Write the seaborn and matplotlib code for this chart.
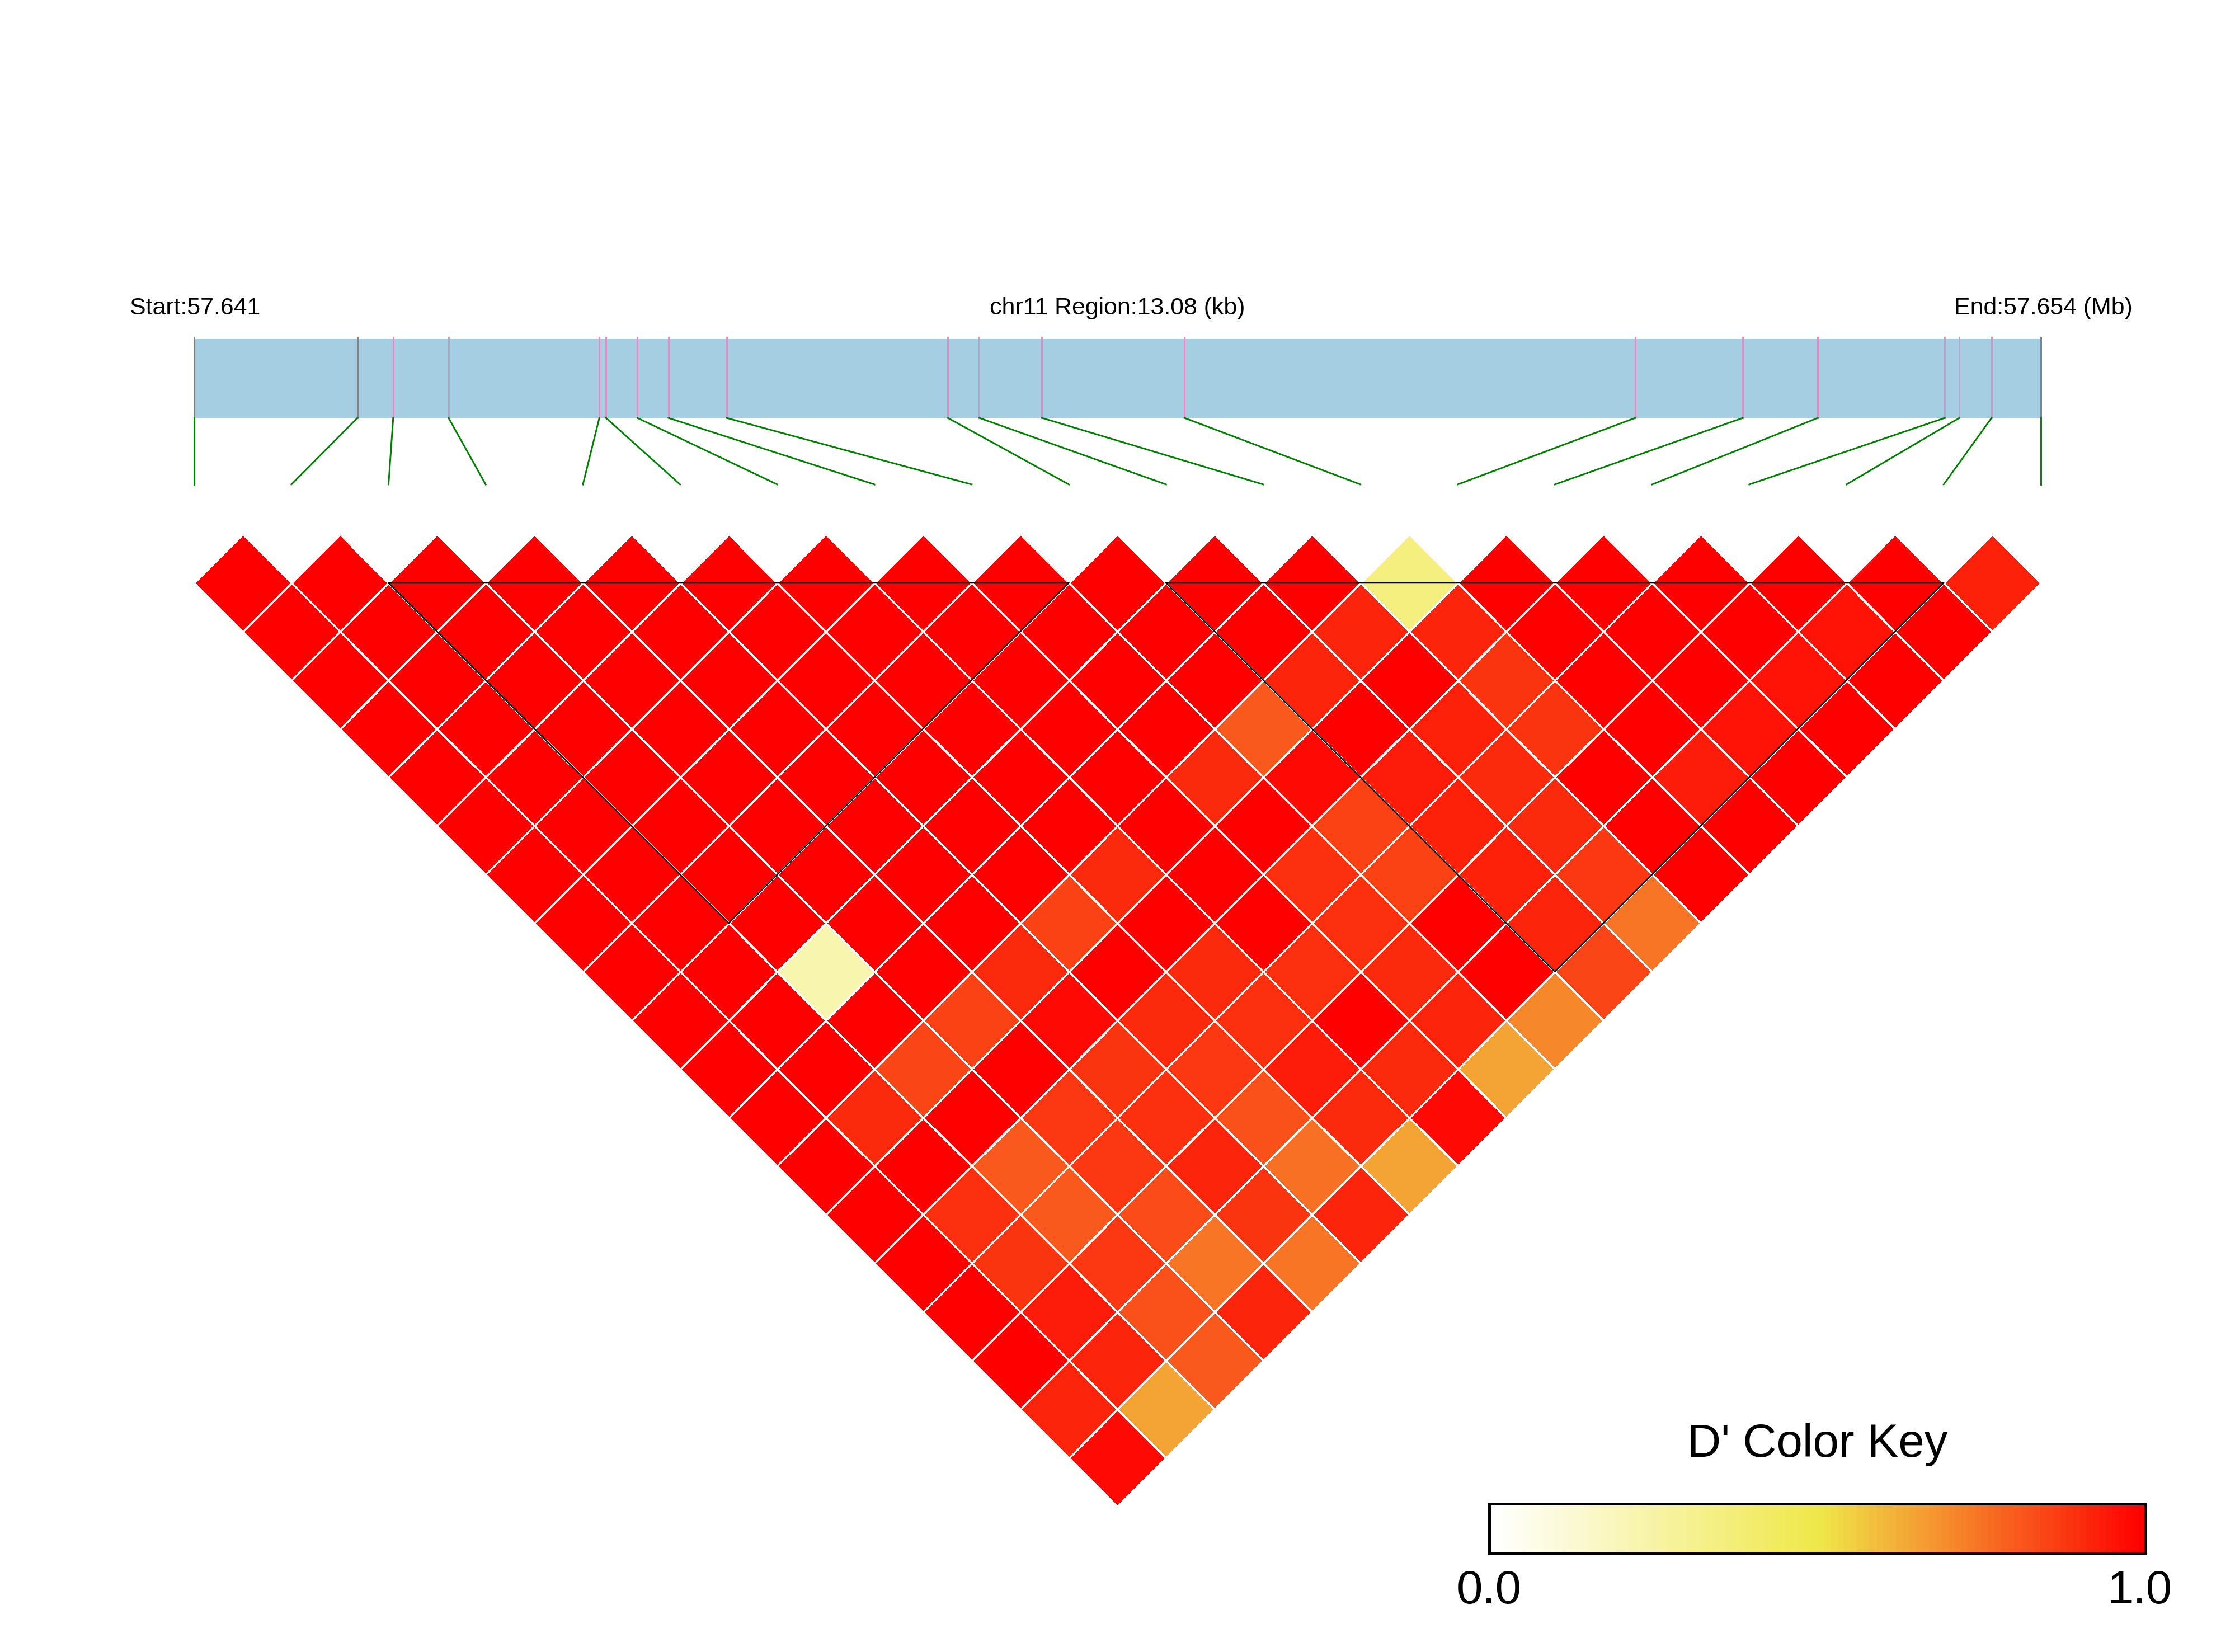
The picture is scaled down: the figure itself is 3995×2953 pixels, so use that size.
import numpy as np
import matplotlib
matplotlib.use("Agg")
import matplotlib.pyplot as plt
import seaborn as sns
from matplotlib.colors import LinearSegmentedColormap
from matplotlib.patches import Rectangle
from matplotlib.transforms import Affine2D

# ---- data ----
chrom = "chr11"
region_start = 57641150
region_end = 57654230
# SNP offsets (bp) from region start
snp_offsets = [0, 1157, 1410, 1802, 2870, 2917, 3139, 3359, 3771, 5338,
               5561, 6005, 7014, 10207, 10969, 11500, 12400, 12503, 12731, 13080]

# D' of SNP k with SNPs k+1 .. 20
ld_snp01 = [1, 1, 1, 1, 1, 1, 1, 1, 1, 1, 1, 1, 1, 1, 1, 1, 1, 0.91, 0.97]
ld_snp02 = [1, 1, 1, 1, 1, 1, 1, 1, 1, 1, 1, 0.90, 1, 0.89, 0.88, 0.93, 0.91, 0.64]
ld_snp03 = [1, 1, 1, 1, 1, 1, 1, 1, 0.22, 1, 0.84, 1, 0.80, 0.80, 0.87, 0.82, 0.80]
ld_snp04 = [1, 1, 1, 1, 1, 1, 1, 1, 1, 0.85, 1, 0.87, 0.87, 0.83, 0.74, 0.91]
ld_snp05 = [1, 1, 1, 1, 1, 1, 1, 1, 0.90, 0.97, 0.88, 0.89, 0.91, 0.88, 0.74]
ld_snp06 = [1, 1, 1, 1, 1, 1, 1, 0.85, 1, 0.90, 0.87, 0.82, 0.75, 0.91]
ld_snp07 = [1, 1, 1, 1, 1, 1, 0.90, 1, 0.90, 0.89, 0.93, 0.90, 0.64]
ld_snp08 = [1, 1, 1, 1, 1, 1, 1, 1, 0.89, 1, 0.90, 0.97]
ld_snp09 = [1, 1, 1, 1, 0.90, 1, 0.89, 0.89, 0.90, 0.91, 0.64]
ld_snp10 = [1, 1, 1, 0.80, 0.97, 0.85, 0.85, 1, 1, 0.70]
ld_snp11 = [1, 1, 0.91, 1, 0.93, 0.92, 0.92, 0.91, 0.84]
ld_snp12 = [1, 0.91, 1, 0.92, 0.90, 0.90, 0.87, 0.74]
ld_snp13 = [0.35, 0.91, 0.88, 0.88, 1, 1, 1]
ld_snp14 = [1, 1, 1, 1, 0.93, 1]
ld_snp15 = [1, 1, 1, 0.95, 1]
ld_snp16 = [1, 1, 0.95, 1]
ld_snp17 = [1, 0.95, 1]
ld_snp18 = [1, 1]
ld_snp19 = [0.92]

# haplotype blocks (first SNP, last SNP), 1-based
blocks = [(3, 10), (11, 19)]

ld_rows = [ld_snp01, ld_snp02, ld_snp03, ld_snp04, ld_snp05, ld_snp06, ld_snp07,
           ld_snp08, ld_snp09, ld_snp10, ld_snp11, ld_snp12, ld_snp13, ld_snp14,
           ld_snp15, ld_snp16, ld_snp17, ld_snp18, ld_snp19]
n_snp = len(snp_offsets)
ld = np.full((n_snp, n_snp), np.nan)
for i, row in enumerate(ld_rows):
    ld[i, i + 1:] = row

# ---- layout (figure pixels) ----
W, H = 3995, 2953
left, right = 347.0, 3648.0
step = (right - left) / (n_snp - 1)
row_y = 1042.0          # centre line of the first diagonal
bar_top, bar_bot = 606.0, 747.0
tick_bot = 866.0

cmap = LinearSegmentedColormap.from_list("dprime", ["#FFFFFF", "#EFE84A", "#FF0000"], N=100)
font = ["Liberation Sans", "DejaVu Sans"]

fig = plt.figure(figsize=(W / 300, H / 300), dpi=300)
ax = fig.add_axes([0, 0, 1, 1])

sns.heatmap(ld, ax=ax, cmap=cmap, vmin=0, vmax=1, cbar=False,
            linewidths=0.6, linecolor="white",
            xticklabels=False, yticklabels=False)

# rotate the matrix 45 degrees into the LD triangle
h = step / 2
rot = Affine2D(np.array([[h, h, left - h],
                         [h, -h, row_y - h],
                         [0, 0, 1]]))
mesh = ax.collections[0]
mesh.set_transform(rot + ax.transData)

ax.set_xlim(0, W)
ax.set_ylim(H, 0)
ax.axis("off")

# gene map bar
ax.add_patch(Rectangle((left, bar_top), right - left, bar_bot - bar_top,
                       facecolor="#A6CEE3", edgecolor="none", zorder=2))
span = region_end - region_start
for k, off in enumerate(snp_offsets):
    px = left + off / (snp_offsets[-1]) * (right - left)
    gx = left + step * k
    col = "#808080" if k in (0, 1, n_snp - 1) else "#E28CC4"
    ax.plot([px, px], [bar_top - 3, bar_bot], color=col, lw=0.7, zorder=3)
    ax.plot([px, gx], [bar_bot, tick_bot], color="#008000", lw=0.7, zorder=3)

# haplotype block outlines
for a, b in blocks:
    xa = left + step * (a - 1)
    xb = left + step * (b - 1)
    apex = row_y + h * (b - a)
    ax.plot([xa, xb, (xa + xb) / 2, xa], [row_y, row_y, apex, row_y],
            color="black", lw=0.6, zorder=4)

ax.text(232, 562, f"Start:{region_start / 1e6:.3f}", fontsize=10.3,
        family=font, ha="left", va="baseline")
ax.text((left + right) / 2, 562, f"{chrom} Region:{span / 1000:.2f} (kb)",
        fontsize=10.3, family=font, ha="center", va="baseline")
ax.text(3812, 562, f"End:{region_end / 1e6:.3f} (Mb)", fontsize=10.3,
        family=font, ha="right", va="baseline")

# colour key
ck_l, ck_r, ck_t, ck_b = 2662.0, 3835.0, 2688.0, 2777.0
cax = fig.add_axes([ck_l / W, 1 - ck_b / H, (ck_r - ck_l) / W, (ck_b - ck_t) / H])
key = np.linspace(0, 1, 100)[None, :]
sns.heatmap(key, ax=cax, cmap=cmap, vmin=0, vmax=1, cbar=False,
            xticklabels=False, yticklabels=False)
cax.add_patch(Rectangle((0, 0), key.shape[1], 1, fill=False, edgecolor="black",
                        lw=1.2, clip_on=False))

ax.text((ck_l + ck_r) / 2, 2604, "D' Color Key", fontsize=20,
        family=font, ha="center", va="baseline")
ax.text(ck_l, 2866, "0.0", fontsize=20, family=font, ha="center", va="baseline")
ax.text(ck_r - 10, 2866, "1.0", fontsize=20, family=font, ha="center", va="baseline")

fig.savefig("out.png", dpi=300)
